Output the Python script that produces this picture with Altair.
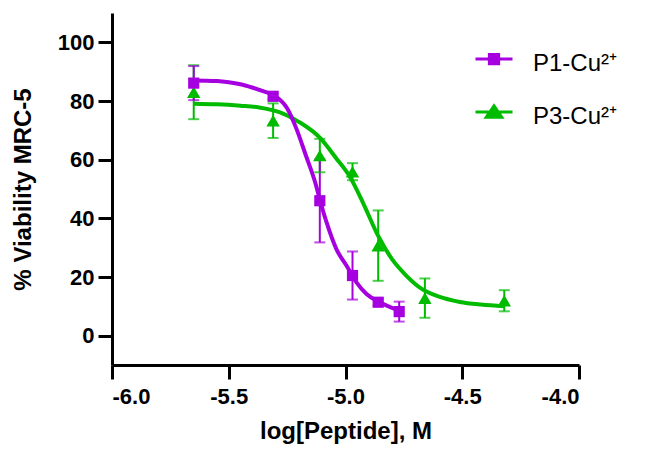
import altair as alt
import pandas as pd

series_names = ["P1-Cu²⁺", "P3-Cu²⁺"]
series_colors = ["#A600E0", "#00BB00"]

# measured points (mean and error)
p1_x = [-5.65, -5.31, -5.11, -4.97, -4.86, -4.77]
p1_mean = [86.1, 81.6, 46.0, 20.5, 11.4, 8.2]
p1_err = [5.8, 1.0, 14.2, 8.2, 1.2, 3.4]

p3_x = [-5.65, -5.31, -5.11, -4.97, -4.86, -4.66, -4.32]
p3_mean = [83.0, 73.3, 61.4, 55.9, 30.7, 12.8, 11.9]
p3_err = [9.2, 5.9, 5.7, 2.9, 12.0, 6.7, 3.6]

# fitted curves
p1_curve_x = [-5.66, -5.55, -5.50, -5.45, -5.40, -5.35, -5.30, -5.25, -5.21,
              -5.17, -5.13, -5.107, -5.081, -5.039, -4.996, -4.953, -4.91, -4.853, -4.77]
p1_curve_y = [87.0, 86.8, 86.4, 85.7, 84.6, 83.3, 81.6, 77.5, 70.5,
              61.5, 52.3, 45.5, 38.6, 29.5, 23.9, 18.2, 14.2, 11.4, 8.5]

p3_curve_x = [-5.65, -5.55, -5.45, -5.37, -5.28, -5.20, -5.11, -5.04, -4.98,
              -4.925, -4.86, -4.80, -4.74, -4.68, -4.60, -4.51, -4.42, -4.32]
p3_curve_y = [79.1, 78.9, 78.4, 77.8, 76.1, 72.9, 67.5, 60.5, 54.0,
              45.3, 34.0, 26.0, 20.5, 16.3, 13.3, 11.5, 10.6, 10.0]

x_ticks = [-6.0, -5.5, -5.0, -4.5, -4.0]
y_ticks = [0, 20, 40, 60, 80, 100]

# tables (P3 first so that P1 is drawn on top)
pts = pd.concat([
    pd.DataFrame({"x": p3_x, "mean": p3_mean, "err": p3_err, "series": series_names[1]}),
    pd.DataFrame({"x": p1_x, "mean": p1_mean, "err": p1_err, "series": series_names[0]}),
], ignore_index=True)
pts["lo"] = pts["mean"] - pts["err"]
pts["hi"] = pts["mean"] + pts["err"]

curves = pd.concat([
    pd.DataFrame({"x": p3_curve_x, "y": p3_curve_y, "series": series_names[1]}),
    pd.DataFrame({"x": p1_curve_x, "y": p1_curve_y, "series": series_names[0]}),
], ignore_index=True)

FONT = "Liberation Sans, Arial, sans-serif"

x_scale = alt.Scale(domain=[-6, -4], nice=False, zero=False)
y_scale = alt.Scale(domain=[-10, 110], nice=False, zero=False)
color_scale = alt.Scale(domain=series_names, range=series_colors)

x_axis = alt.Axis(values=x_ticks, title="log[Peptide], M",
                  labelExpr="(datum.value < 0 ? '-' : '') + format(abs(datum.value), '.1f')")
y_axis = alt.Axis(values=y_ticks, title="% Viability MRC-5")

# legend symbols: a line segment with the marker on it (raised slightly above the label centre)
legend_paths = ["M-1,-0.27H1M-0.25,-0.52H0.25V-0.02H-0.25Z",
                "M-1,-0.27H1M0,-0.60L0.42,0.02H-0.42Z"]

legend = alt.Legend(
    orient="none", legendX=362, legendY=31, title=None,
    symbolSize=1369, symbolStrokeWidth=3,
    labelFontSize=24, labelFont=FONT, labelColor="black",
    labelOffset=19, rowPadding=21, padding=0, labelLimit=400,
)

# zero-size layer that only carries the legend (first, so its legend settings win)
legend_layer = alt.Chart(pts).mark_point(filled=True, size=0, opacity=1, fillOpacity=1, strokeOpacity=1).encode(
    x=alt.X("x:Q", scale=x_scale, axis=x_axis),
    y=alt.Y("mean:Q", scale=y_scale, axis=y_axis),
    color=alt.Color("series:N", scale=color_scale, legend=legend),
    stroke=alt.Stroke("series:N", scale=alt.Scale(domain=series_names, range=series_colors), legend=legend),
    shape=alt.Shape("series:N", scale=alt.Scale(domain=series_names, range=legend_paths), legend=legend),
)

lines = alt.Chart(curves).mark_line(strokeWidth=4, interpolate="monotone").encode(
    x="x:Q", y="y:Q",
    color=alt.Color("series:N", scale=color_scale),
    detail="series:N",
)

bars = alt.Chart(pts).mark_rule(strokeWidth=2).encode(
    x="x:Q", y="lo:Q", y2="hi:Q",
    color=alt.Color("series:N", scale=color_scale),
)
cap_lo = alt.Chart(pts).mark_tick(orient="horizontal", size=11, thickness=2).encode(
    x="x:Q", y="lo:Q",
    color=alt.Color("series:N", scale=color_scale),
)
cap_hi = alt.Chart(pts).mark_tick(orient="horizontal", size=11, thickness=2).encode(
    x="x:Q", y="hi:Q",
    color=alt.Color("series:N", scale=color_scale),
)

pts_p3 = alt.Chart(pts).transform_filter(alt.datum.series == series_names[1]).mark_point(
    filled=True, opacity=1, shape="triangle-up", size=180).encode(
    x="x:Q", y="mean:Q",
    color=alt.Color("series:N", scale=color_scale),
)
pts_p1 = alt.Chart(pts).transform_filter(alt.datum.series == series_names[0]).mark_point(
    filled=True, opacity=1, shape="square", size=125).encode(
    x="x:Q", y="mean:Q",
    color=alt.Color("series:N", scale=color_scale),
)

chart = alt.layer(legend_layer, lines, bars, cap_lo, cap_hi, pts_p3, pts_p1).properties(
    width=467, height=352,
    autosize=alt.AutoSizeParams(type="none"),
    padding={"left": 104, "top": 5, "right": 70, "bottom": 83},
).configure_view(stroke=None).configure_axis(
    grid=False,
    domainColor="black", domainWidth=3,
    tickColor="black", tickWidth=3, tickSize=14,
    labelFont=FONT, labelFontSize=22, labelFontWeight="bold", labelColor="black",
    titleFont=FONT, titleFontSize=24, titleFontWeight="bold", titleColor="black",
).configure_axisX(labelPadding=7, titlePadding=12).configure_axisY(labelPadding=4, titlePadding=22)

chart.save("out.html", embed_options={"renderer": "svg", "actions": False})
